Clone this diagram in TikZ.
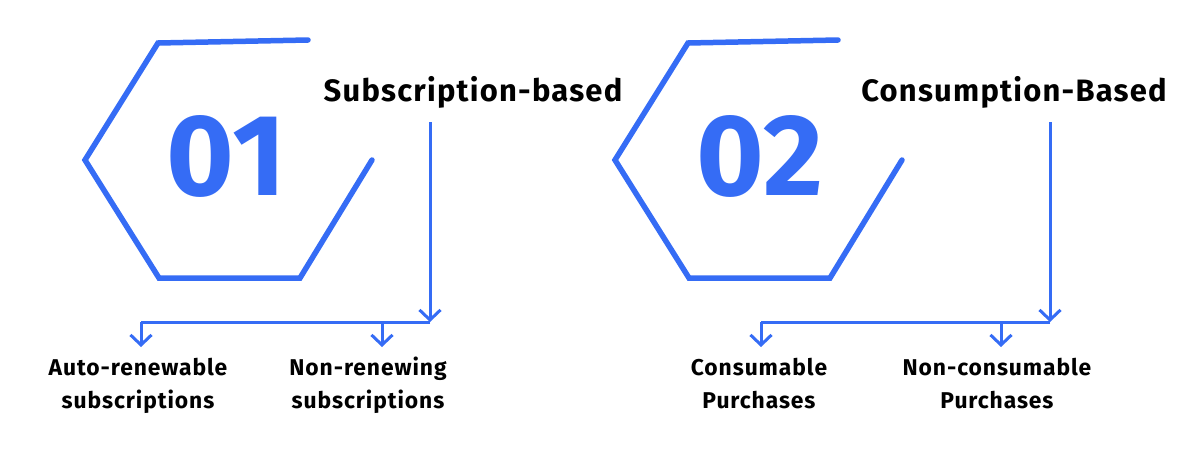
\documentclass[tikz,border=0pt]{standalone}
\usepackage{fontspec}
\setmainfont{Fira Sans}
\newfontfamily\labelfont{Fira Sans}[LetterSpace=4]
\usetikzlibrary{arrows.meta}
\definecolor{hexblue}{RGB}{53,108,245}
\tikzset{
  hexline/.style={draw=hexblue, line width=0.11cm, line cap=round, line join=miter},
  branch/.style={draw=hexblue, line width=0.06cm},
  branchtip/.style={branch, -{Straight Barb[length=0.2cm, width=0.42cm, line width=0.06cm]}},
  digit/.style={hexblue, font=\fontsize{66}{66}\selectfont\bfseries, anchor=base, inner sep=0pt},
  title/.style={font=\labelfont\fontsize{17.6}{20}\selectfont\bfseries, anchor=base, inner sep=0pt},
  leaf/.style={font=\labelfont\fontsize{13}{18.7}\selectfont\bfseries, align=center, anchor=base, inner sep=0pt},
}

\begin{document}
\begin{tikzpicture}[x=0.02cm, y=-0.02cm]
    \useasboundingbox (0,0) rectangle (1200,450);
    % define points
    % first hexagon
    \coordinate (h1_top_end) at (308,40);
    \coordinate (h1_top) at (158,43);
    \coordinate (h1_left) at (85,160);
    \coordinate (h1_bottom) at (159,278);
    \coordinate (h1_bottom_right) at (300,278);
    \coordinate (h1_right_end) at (372,160);
    % second hexagon
    \coordinate (h2_top_end) at (838,40);
    \coordinate (h2_top) at (688,43);
    \coordinate (h2_left) at (615,160);
    \coordinate (h2_bottom) at (689,278);
    \coordinate (h2_bottom_right) at (830,278);
    \coordinate (h2_right_end) at (902,160);
    % branches
    \coordinate (sub_start) at (430,122);
    \coordinate (sub_corner) at (430,322);
    \coordinate (sub_left) at (141,322);
    \coordinate (sub_mid) at (382,322);
    \coordinate (con_start) at (1050,122);
    \coordinate (con_corner) at (1050,322);
    \coordinate (con_left) at (761,322);
    \coordinate (con_mid) at (1001,322);
    % draw hexagons
    \draw[hexline] (h1_top_end) -- (h1_top) -- (h1_left) -- (h1_bottom) -- (h1_bottom_right) -- (h1_right_end);
    \draw[hexline] (h2_top_end) -- (h2_top) -- (h2_left) -- (h2_bottom) -- (h2_bottom_right) -- (h2_right_end);
    % add labels
    \node[digit] (num_one) at (226.5,195) {01};
    \node[digit] (num_two) at (760,195) {02};
    \node[title] (sub_title) at (473,101) {Subscription-based};
    \node[title] (con_title) at (1014,101) {Consumption-Based};
    % anchor base sits on the second line
    \node[leaf] (auto_renew) at (138,408) {Auto-renewable\\subscriptions};
    \node[leaf] (non_renew) at (368,408) {Non-renewing\\subscriptions};
    \node[leaf] (consumable) at (759,408) {Consumable\\Purchases};
    \node[leaf] (non_consumable) at (997,408) {Non-consumable\\Purchases};
    % draw branches
    \draw[branchtip] (sub_start) -- (sub_corner);
    \draw[branch] (sub_corner) -- (sub_left);
    \draw[branchtip] (sub_left) -- ++(0,25) coordinate (sub_left_tip);
    \draw[branchtip] (sub_mid) -- ++(0,25) coordinate (sub_mid_tip);
    \draw[branchtip] (con_start) -- (con_corner);
    \draw[branch] (con_corner) -- (con_left);
    \draw[branchtip] (con_left) -- ++(0,25) coordinate (con_left_tip);
    \draw[branchtip] (con_mid) -- ++(0,25) coordinate (con_mid_tip);
\end{tikzpicture}
\end{document}
